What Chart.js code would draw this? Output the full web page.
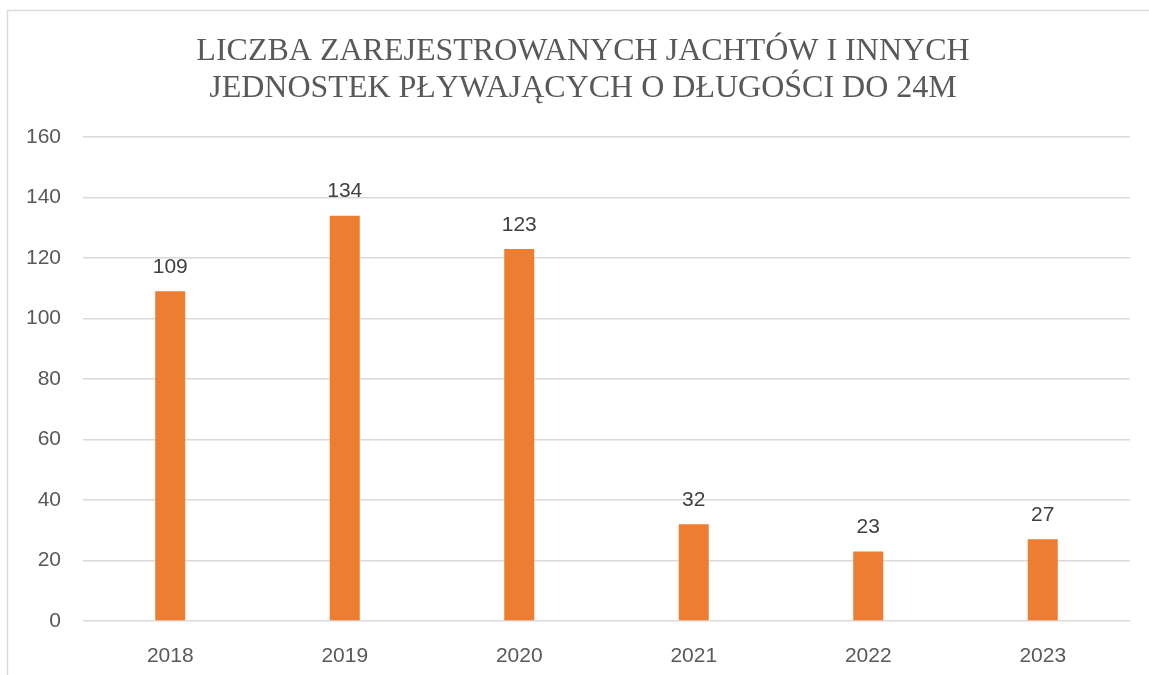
<!DOCTYPE html>
<html lang="pl">
<head>
<meta charset="utf-8">
<title>Rejestracje jachtów</title>
<script src="https://cdn.jsdelivr.net/npm/chart.js@4.4.1/dist/chart.umd.min.js"></script>
<style>
  html, body { margin: 0; padding: 0; background: #fff; }
  #wrap { width: 1149px; height: 675px; }
</style>
</head>
<body>
<div id="wrap"><canvas id="wykres" width="1149" height="675"></canvas></div>
<script>
// lata i liczba zarejestrowanych jednostek
var lata = ['2018', '2019', '2020', '2021', '2022', '2023'];
var liczbaJednostek = [109, 134, 123, 32, 23, 27];
var tytul = ['LICZBA ZAREJESTROWANYCH JACHTÓW I INNYCH', 'JEDNOSTEK PŁYWAJĄCYCH O DŁUGOŚCI DO 24M'];
var osY = { min: 0, max: 160, krok: 20 };

// ramka wokół wykresu (prawa i dolna krawędź poza obszarem) i tytuł
var ramka = {
    id: 'ramka',
    beforeDraw: function(chart) {
        var ctx = chart.ctx;
        ctx.save();
        ctx.strokeStyle = '#d9d9d9';
        ctx.lineWidth = 1.5;
        ctx.strokeRect(7.5, 10.5, chart.width + 20, chart.height + 20);

        ctx.font = '32px "Liberation Serif", "Times New Roman", serif';
        ctx.fillStyle = '#595959';
        ctx.textAlign = 'center';
        ctx.textBaseline = 'middle';
        tytul.forEach(function(linia, i) {
            ctx.fillText(linia, 583, 52 + i * 37);
        });
        ctx.restore();
    }
};

// wartości nad słupkami
var etykiety = {
    id: 'etykiety',
    afterDatasetsDraw: function(chart) {
        var ctx = chart.ctx;
        var meta = chart.getDatasetMeta(0);
        ctx.save();
        ctx.font = '21px "Liberation Sans", Arial, sans-serif';
        ctx.fillStyle = '#404040';
        ctx.textAlign = 'center';
        ctx.textBaseline = 'middle';
        meta.data.forEach(function(bar, i) {
            ctx.fillText(String(chart.data.datasets[0].data[i]), bar.x, bar.y - 24);
        });
        ctx.restore();
    }
};

var ctx = document.getElementById('wykres').getContext('2d');
var wykres = new Chart(ctx, {
    type: 'bar',
    data: {
        labels: lata,
        datasets: [{
            data: liczbaJednostek,
            backgroundColor: '#ED7D31',
            borderWidth: 0,
            categoryPercentage: 1,
            barPercentage: 0.172
        }]
    },
    options: {
        responsive: false,
        animation: false,
        events: [],
        layout: { padding: { left: 0, right: 19, top: 137, bottom: 0 } },
        plugins: {
            legend: { display: false },
            tooltip: { enabled: false },
            title: { display: false }
        },
        scales: {
            x: {
                afterFit: function(scale) { scale.height = 54; },
                grid: { display: false },
                border: { display: false },
                ticks: {
                    color: '#595959',
                    padding: 15,
                    font: { family: '"Liberation Sans", Arial, sans-serif', size: 21 }
                }
            },
            y: {
                min: osY.min,
                max: osY.max,
                afterFit: function(scale) { scale.width = 83; },
                grid: { color: '#d9d9d9', lineWidth: 1.5, drawTicks: false },
                border: { display: false },
                ticks: {
                    stepSize: osY.krok,
                    color: '#595959',
                    padding: 22,
                    font: { family: '"Liberation Sans", Arial, sans-serif', size: 21 }
                }
            }
        }
    },
    plugins: [ramka, etykiety]
});
</script>
</body>
</html>
